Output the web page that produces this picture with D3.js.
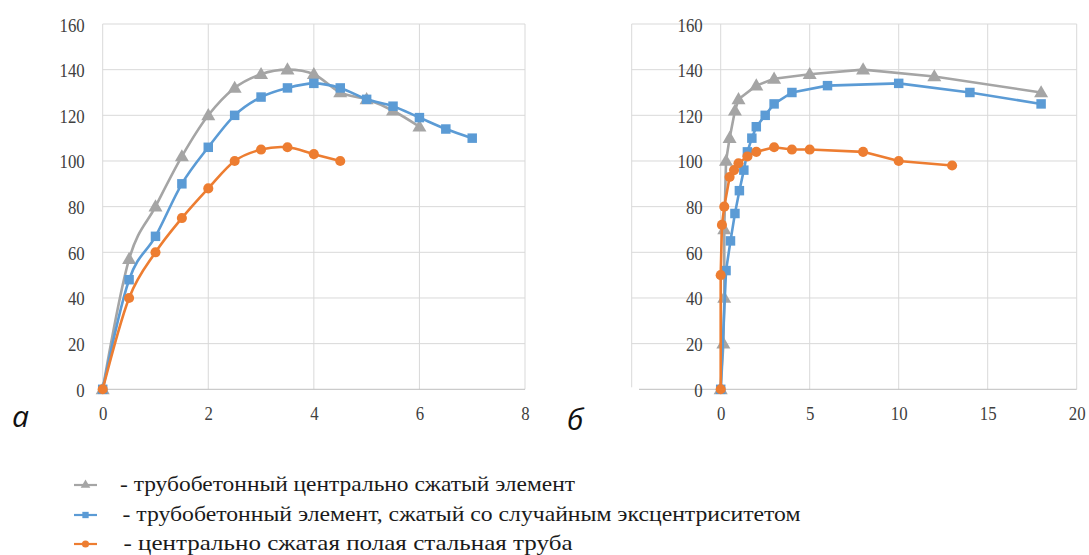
<!DOCTYPE html>
<html><head><meta charset="utf-8">
<script src="https://cdn.jsdelivr.net/npm/d3@7/dist/d3.min.js"></script>
<style>
html,body{margin:0;padding:0;background:#fff;}
svg{display:block;}
.serif{font-family:"Liberation Serif","DejaVu Serif","Times New Roman",serif;}
</style></head>
<body>
<svg id="chart" width="1089" height="555"></svg>
<script>
// ---------- DATA ----------
const seriesNames = [
  "- трубобетонный центрально сжатый элемент",
  "- трубобетонный элемент, сжатый со случайным эксцентриситетом",
  "- центрально сжатая полая стальная труба"
];
const panelLabels = ["а", "б"];
const yTicks = [0, 20, 40, 60, 80, 100, 120, 140, 160];
const leftXTicks = [0, 2, 4, 6, 8];
const rightXTicks = [0, 5, 10, 15, 20];

// Panel а
const leftGrayX   = [0, 0.5, 1, 1.5, 2, 2.5, 3, 3.5, 4, 4.5, 5, 5.5, 6];
const leftGrayY   = [0, 57, 80, 102, 120, 132, 138, 140, 138, 130, 127, 122, 115];
const leftBlueX   = [0, 0.5, 1, 1.5, 2, 2.5, 3, 3.5, 4, 4.5, 5, 5.5, 6, 6.5, 7];
const leftBlueY   = [0, 48, 67, 90, 106, 120, 128, 132, 134, 132, 127, 124, 119, 114, 110];
const leftOrangeX = [0, 0.5, 1, 1.5, 2, 2.5, 3, 3.5, 4, 4.5];
const leftOrangeY = [0, 40, 60, 75, 88, 100, 105, 106, 103, 100];

// Panel б
const rightGrayX   = [0, 0.15, 0.2, 0.2, 0.3, 0.5, 0.8, 1, 2, 3, 5, 8, 12, 18];
const rightGrayY   = [0, 20, 40, 70, 100, 110, 122, 127, 133, 136, 138, 140, 137, 130];
const rightBlueX   = [0, 0.3, 0.55, 0.8, 1.05, 1.3, 1.5, 1.75, 2, 2.5, 3, 4, 6, 10, 14, 18];
const rightBlueY   = [0, 52, 65, 77, 87, 96, 104, 110, 115, 120, 125, 130, 133, 134, 130, 125];
const rightOrangeX = [0, 0, 0.07, 0.2, 0.5, 0.75, 1, 1.5, 2, 3, 4, 5, 8, 10, 13];
const rightOrangeY = [0, 50, 72, 80, 93, 96, 99, 102, 104, 106, 105, 105, 104, 100, 98];

// ---------- STYLE ----------
const colors = ["#A5A5A5", "#5B9BD5", "#ED7D31"];
const shapes = [d3.symbolTriangle, d3.symbolSquare, d3.symbolCircle];
const gridColor = "#D9D9D9";
const digitW = 8.4;

const svg = d3.select("#chart");
const zip = (xs, ys) => xs.map((x, i) => ({x, y: ys[i]}));

function panel(opts) {
  const {x, y, xTicks, series, curve, frameLeft, axisStart} = opts;
  const g = svg.append("g");
  const [x0, x1] = x.range();
  const left = frameLeft !== undefined ? frameLeft : x0;
  g.selectAll(".hg").data(yTicks.filter(d => d > 0)).join("line")
    .attr("x1", left).attr("x2", x1)
    .attr("y1", d => y(d)).attr("y2", d => y(d))
    .attr("stroke", gridColor).attr("stroke-width", 1);
  g.selectAll(".vg").data(xTicks).join("line")
    .attr("x1", d => x(d)).attr("x2", d => x(d))
    .attr("y1", y(160)).attr("y2", y(0))
    .attr("stroke", gridColor).attr("stroke-width", 1);
  if (frameLeft !== undefined) {
    g.append("line").attr("x1", frameLeft).attr("x2", frameLeft)
      .attr("y1", y(160)).attr("y2", y(0) - 2)
      .attr("stroke", gridColor).attr("stroke-width", 1);
  }
  g.append("line").attr("x1", axisStart !== undefined ? axisStart : x0).attr("x2", x1)
    .attr("y1", y(0)).attr("y2", y(0))
    .attr("stroke", "#BFBFBF").attr("stroke-width", 1);

  const ya = g.append("g").attr("transform", `translate(${x(0)},0)`)
    .call(d3.axisLeft(y).tickValues(yTicks).tickSize(0).tickPadding(18));
  ya.select(".domain").remove();
  ya.attr("font-family", null).attr("font-size", null);
  ya.selectAll("text").attr("class", "serif")
    .attr("font-size", 19).attr("fill", "#404040")
    .attr("dy", 7)
    .attr("textLength", d => String(d).length * digitW)
    .attr("lengthAdjust", "spacingAndGlyphs");
  const xa = g.append("g").attr("transform", `translate(0,${y(0)})`)
    .call(d3.axisBottom(x).tickValues(xTicks).tickSize(0).tickPadding(0).tickFormat(d3.format("d")));
  xa.select(".domain").remove();
  xa.attr("font-family", null).attr("font-size", null);
  xa.selectAll("text").attr("class", "serif")
    .attr("font-size", 19).attr("fill", "#404040")
    .attr("y", 31).attr("dy", null)
    .attr("textLength", d => String(d).length * digitW)
    .attr("lengthAdjust", "spacingAndGlyphs");

  const line = d3.line().x(d => x(d.x)).y(d => y(d.y)).curve(curve);
  const sizes = [85, 90, 80];
  series.forEach((s, i) => {
    const sg = g.append("g");
    sg.append("path").datum(s).attr("d", line)
      .attr("fill", "none").attr("stroke", colors[i]).attr("stroke-width", 2.6)
      .attr("stroke-linejoin", "round");
    sg.selectAll("path.m").data(s).join("path").attr("class", "m")
      .attr("transform", d => `translate(${x(d.x)},${y(d.y) + (i === 0 ? 0.8 : 0)})`)
      .attr("d", d3.symbol(shapes[i], sizes[i]))
      .attr("fill", colors[i]);
  });
}

const yScale = d3.scaleLinear().domain([0, 160]).range([389.3, 24]);

panel({
  x: d3.scaleLinear().domain([0, 8]).range([102.7, 525]),
  y: yScale,
  xTicks: leftXTicks,
  series: [zip(leftGrayX, leftGrayY), zip(leftBlueX, leftBlueY), zip(leftOrangeX, leftOrangeY)],
  curve: d3.curveCatmullRom.alpha(0)
});

panel({
  x: d3.scaleLinear().domain([-5, 20]).range([631.7, 1076.7]),
  y: yScale,
  xTicks: rightXTicks,
  series: [zip(rightGrayX, rightGrayY), zip(rightBlueX, rightBlueY), zip(rightOrangeX, rightOrangeY)],
  curve: d3.curveLinear,
  frameLeft: 631.7,
  axisStart: 639
});

const labelPos = [[12, 427], [567, 430]];
panelLabels.forEach((t, i) => {
  svg.append("text").text(t)
    .attr("x", labelPos[i][0]).attr("y", labelPos[i][1])
    .attr("font-family", "'Open Sans','Noto Sans',sans-serif")
    .attr("font-style", "italic").attr("font-size", 30).attr("fill", "#111");
});

const legendRows = [
  {cy: 485, mx: 85.5, tx: 120, w: 455},
  {cy: 515, mx: 85.5, tx: 122.5, w: 678},
  {cy: 544, mx: 85.5, tx: 123.5, w: 449}
];
seriesNames.forEach((name, i) => {
  const r = legendRows[i];
  const lg = svg.append("g");
  lg.append("line").attr("x1", r.mx - 11.5).attr("x2", r.mx + 11.5)
    .attr("y1", r.cy).attr("y2", r.cy)
    .attr("stroke", colors[i]).attr("stroke-width", 2.2);
  lg.append("path").attr("transform", `translate(${r.mx},${r.cy})`)
    .attr("d", d3.symbol(shapes[i], 40)).attr("fill", colors[i]);
  lg.append("text").text(name).attr("class", "serif")
    .attr("x", r.tx).attr("y", r.cy + 6)
    .attr("font-size", 22).attr("fill", "#1a1a1a")
    .attr("textLength", r.w).attr("lengthAdjust", "spacingAndGlyphs");
});
</script>
</body></html>
